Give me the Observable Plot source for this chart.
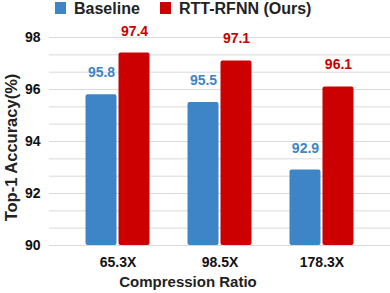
<!DOCTYPE html>
<html>
<head>
<meta charset="utf-8">
<script src="https://cdn.jsdelivr.net/npm/d3@7"></script>
<script src="https://cdn.jsdelivr.net/npm/@observablehq/plot@0.6"></script>
<style>
  body { margin: 0; background: #fff; font-family: "Liberation Sans", Arial, sans-serif; }
  #legend { height: 18px; position: relative; font-weight: bold; font-size: 16px; color: #222; }
  #legend .sw { position: absolute; top: 2px; width: 11px; height: 12px; }
  #legend .lb { position: absolute; top: 0px; height: 18px; line-height: 18px; white-space: nowrap; }
</style>
</head>
<body>
<div id="legend"></div>
<div id="chart"></div>
<script>
const categories = ["65.3X", "98.5X", "178.3X"];
const seriesNames = ["Baseline", "RTT-RFNN (Ours)"];
const baseline = [95.8, 95.5, 92.9];
const rttrfnn = [97.4, 97.1, 96.1];
const yTicks = [90, 92, 94, 96, 98];
const colors = ["#3d85c6", "#cc0000"];
const xTitle = "Compression Ratio";
const yTitle = "Top-1 Accuracy(%)";

// legend
const legend = document.getElementById("legend");
const legPos = [{sw: 55, lb: 74}, {sw: 160, lb: 179}];
seriesNames.forEach((n, i) => {
  const s = document.createElement("div");
  s.className = "sw"; s.style.left = legPos[i].sw + "px"; s.style.background = colors[i];
  const t = document.createElement("div");
  t.className = "lb"; t.style.left = legPos[i].lb + "px"; t.textContent = n;
  legend.appendChild(s); legend.appendChild(t);
});

const dataB = categories.map((c, i) => ({cat: c, v: baseline[i]}));
const dataR = categories.map((c, i) => ({cat: c, v: rttrfnn[i]}));
const grid = d3.range(0, 13).map(k => 90 + k * 2 / 3);

const plot = Plot.plot({
  width: 390,
  height: 275,
  marginLeft: 49,
  marginRight: 0,
  marginTop: 19,
  marginBottom: 48,
  style: {fontFamily: "'Liberation Sans', Arial, sans-serif", background: "#fff"},
  x: {domain: categories, paddingInner: 0.3725, paddingOuter: 0.358, round: false, label: null},
  y: {domain: [90, 98], label: null},
  marks: [
    Plot.ruleY(grid, {y: d => d, stroke: "#dadada", strokeWidth: 1}),
    Plot.barY(dataB, {x: "cat", y1: 90, y2: "v", fill: colors[0], insetRight: 33, rx: 2}),
    Plot.barY(dataR, {x: "cat", y1: 90, y2: "v", fill: colors[1], insetLeft: 33, rx: 2}),
    Plot.text(dataB, {x: "cat", y: "v", text: d => d.v.toFixed(1), dx: -16.5, dy: -22, fill: colors[0], fontSize: 14, fontWeight: "bold"}),
    Plot.text(dataR, {x: "cat", y: "v", text: d => d.v.toFixed(1), dx: 16.5, dy: -22, fill: colors[1], fontSize: 14, fontWeight: "bold"}),
    Plot.axisY({ticks: yTicks, tickSize: 0, tickPadding: 9, label: null, fontSize: 14, fontWeight: "bold", color: "#111", tickFormat: d => d}),
    Plot.axisX({tickSize: 0, tickPadding: 12, label: null, fontSize: 14, fontWeight: "bold", color: "#111"}),
    Plot.text([xTitle], {frameAnchor: "bottom", text: d => d, dx: -32, dy: 41, fontSize: 15, fontWeight: "bold", fill: "#222"}),
    Plot.text([yTitle], {frameAnchor: "left", textAnchor: "middle", text: d => d, rotate: -90, dx: -38, dy: 6, fontSize: 16.5, fontWeight: "bold", fill: "#222"})
  ]
});
document.getElementById("chart").appendChild(plot);
</script>
</body>
</html>
